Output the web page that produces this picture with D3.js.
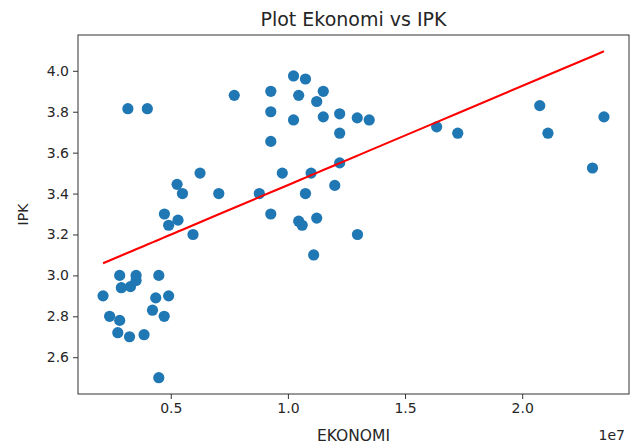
<!DOCTYPE html>
<html>
<head>
<meta charset="utf-8">
<script src="https://cdn.jsdelivr.net/npm/d3@7"></script>
<style>
  html, body { margin: 0; padding: 0; background: #fff; }
  svg { display: block; }
  text { font-family: "DejaVu Sans", sans-serif; fill: #262626; }
</style>
</head>
<body>
<svg id="chart" width="639" height="448"></svg>
<script>
// EKONOMI values in units of 1e7
const ekonomi = [
  0.211, 0.239, 0.274, 0.282, 0.282, 0.289, 0.317, 0.324, 0.328, 0.352,
  0.352, 0.386, 0.400, 0.422, 0.436, 0.449, 0.449, 0.472, 0.473, 0.491,
  0.491, 0.527, 0.531, 0.550, 0.595, 0.625, 0.705, 0.771, 0.878, 0.927,
  0.927, 0.927, 0.927, 0.976, 1.024, 1.024, 1.046, 1.046, 1.061, 1.075,
  1.075, 1.099, 1.110, 1.123, 1.123, 1.151, 1.151, 1.200, 1.221, 1.221,
  1.221, 1.296, 1.297, 1.347, 1.635, 1.725, 2.075, 2.110, 2.300, 2.349
];
const ipk = [
  2.90, 2.80, 2.72, 3.00, 2.78, 2.94, 3.815, 2.70, 2.945, 3.00,
  2.975, 2.71, 3.815, 2.83, 2.89, 3.00, 2.50, 2.80, 3.30, 2.90,
  3.245, 3.445, 3.27, 3.40, 3.20, 3.50, 3.40, 3.88, 3.40, 3.90,
  3.80, 3.655, 3.30, 3.50, 3.975, 3.76, 3.88, 3.265, 3.245, 3.96,
  3.40, 3.50, 3.10, 3.85, 3.28, 3.90, 3.775, 3.44, 3.79, 3.695,
  3.55, 3.77, 3.20, 3.76, 3.726, 3.695, 3.83, 3.695, 3.525, 3.775
];
// Regression line coefficients (IPK = intercept + slope * EKONOMI[1e7])
const fitIntercept = 2.957;
const fitSlope = 0.4846;

const xTicks = [0.5, 1.0, 1.5, 2.0];
const xTickLabels = ["0.5", "1.0", "1.5", "2.0"];
const yTicks = [2.6, 2.8, 3.0, 3.2, 3.4, 3.6, 3.8, 4.0];
const yTickLabels = ["2.6", "2.8", "3.0", "3.2", "3.4", "3.6", "3.8", "4.0"];

const titleText = "Plot Ekonomi vs IPK";
const xLabel = "EKONOMI";
const yLabel = "IPK";
const offsetText = "1e7";

const svg = d3.select("#chart");
const L = 78, R = 629, T = 35, B = 394;

// matplotlib-style 5% margins
const xmin = d3.min(ekonomi), xmax = d3.max(ekonomi);
const fitY0 = fitIntercept + fitSlope * xmin, fitY1 = fitIntercept + fitSlope * xmax;
const ymin = Math.min(d3.min(ipk), fitY0), ymax = Math.max(d3.max(ipk), fitY1);
const xm = (xmax - xmin) * 0.05, ym = (ymax - ymin) * 0.05;

const x = d3.scaleLinear().domain([xmin - xm, xmax + xm]).range([L, R]);
const y = d3.scaleLinear().domain([ymin - ym, ymax + ym]).range([B, T]);

// points
svg.append("g").selectAll("circle")
  .data(ekonomi.map((v, i) => [v, ipk[i]]))
  .join("circle")
  .attr("cx", d => x(d[0]))
  .attr("cy", d => y(d[1]))
  .attr("r", 5.6)
  .attr("fill", "#1f77b4");

// regression line
const lineGen = d3.line().x(d => x(d)).y(d => y(fitIntercept + fitSlope * d));
svg.append("path")
  .datum(ekonomi)
  .attr("d", lineGen)
  .attr("fill", "none")
  .attr("stroke", "#ff0000")
  .attr("stroke-width", 2.1);

// axes
const xAxis = d3.axisBottom(x).tickValues(xTicks)
  .tickFormat((d, i) => xTickLabels[i]).tickSize(5).tickPadding(4);
const yAxis = d3.axisLeft(y).tickValues(yTicks)
  .tickFormat((d, i) => yTickLabels[i]).tickSize(5).tickPadding(4);

const gx = svg.append("g").attr("transform", `translate(0,${B})`).call(xAxis);
const gy = svg.append("g").attr("transform", `translate(${L},0)`).call(yAxis);
[gx, gy].forEach(g => {
  g.select(".domain").remove();
  g.selectAll(".tick line").attr("stroke", "#333").attr("stroke-width", 1);
  g.selectAll(".tick text").attr("font-size", 14)
    .attr("font-family", "DejaVu Sans, sans-serif").attr("fill", "#262626");
});

// frame
svg.append("rect")
  .attr("x", L).attr("y", T).attr("width", R - L).attr("height", B - T)
  .attr("fill", "none").attr("stroke", "#333").attr("stroke-width", 1);

// texts
svg.append("text").attr("x", (L + R) / 2).attr("y", 26)
  .attr("text-anchor", "middle").attr("font-size", 19).text(titleText);
svg.append("text").attr("x", (L + R) / 2).attr("y", 441)
  .attr("text-anchor", "middle").attr("font-size", 15.5).text(xLabel);
svg.append("text").attr("transform", `translate(28,${(T + B) / 2}) rotate(-90)`)
  .attr("text-anchor", "middle").attr("font-size", 14).text(yLabel);
svg.append("text").attr("x", R - 4).attr("y", 440)
  .attr("text-anchor", "end").attr("font-size", 14).text(offsetText);
</script>
</body>
</html>
